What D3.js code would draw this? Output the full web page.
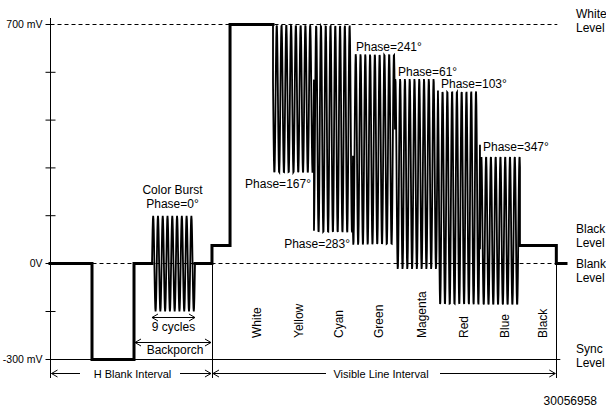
<!DOCTYPE html>
<html><head><meta charset="utf-8">
<script src="https://cdn.jsdelivr.net/npm/d3@7"></script>
<style>body{margin:0;background:#fff}svg{display:block;font-family:Arial,"Liberation Sans",sans-serif}</style>
</head><body><svg id="c" width="606" height="411"></svg>
<script>
// ---- data ----
const yTicks = [700, 560, 420, 280, 140, 0, -150, -300];
const yTickLabels = ["700 mV", "", "", "", "", "0V", "", "-300 mV"];
const levelNames = [["White", "Level"], ["Black", "Level"], ["Blank", "Level"], ["Sync", "Level"]];
const levelValues = [700, 53, 0, -300];
const barNames = ["White", "Yellow", "Cyan", "Green", "Magenta", "Red", "Blue", "Black"];
const barStart = [22.33, 27.66, 32.74, 37.58, 42.79, 48.12, 53.33, 58.29];
const barEnd = [27.66, 32.74, 37.58, 42.79, 48.12, 53.33, 58.29, 62.8];
const barTop = [700, 700, 700, 615, 542, 507, 315, 53];
const barBottom = [700, 264, 88, 53, -19, -131, -131, 53];
const barPhase = [null, 167, 283, 241, 61, 103, 347, null];
const syncStart = 5.21, syncEnd = 10.42;
const burstStart = 12.65, burstEnd = 17.98, burstCycles = 9;
const burstTop = 140, burstBottom = -150, burstPhase = 0;
const backporchEnd = 20.09, lineEnd = 64;
const blankLevel = 0, blackLevel = 53, syncLevel = -300, whiteLevel = 700;
const figureId = "30056958";

// ---- layout ----
const svg = d3.select("#c");
const x = d3.scaleLinear().domain([0, lineEnd]).range([50, 566]);
const y = d3.scaleLinear().domain([-300, 0, 700]).range([359.5, 263.5, 24.5]);
const FONT = "Arial, 'Liberation Sans', sans-serif";
const period = (burstEnd - burstStart) / burstCycles;
const ax = Math.round(x(0)) + 0.5;

// reference lines
[whiteLevel, blankLevel].forEach(v => {
  svg.append("line").attr("x1", ax).attr("x2", x(barEnd[7]) + 1)
    .attr("y1", y(v)).attr("y2", y(v))
    .attr("stroke", "#000").attr("stroke-width", 1).attr("stroke-dasharray", "4,3");
});
svg.append("line").attr("x1", ax).attr("x2", x(barEnd[7]) + 4)
  .attr("y1", y(syncLevel)).attr("y2", y(syncLevel)).attr("stroke", "#000").attr("stroke-width", 1);

// y axis
svg.append("line").attr("x1", ax).attr("x2", ax).attr("y1", 18).attr("y2", 378).attr("stroke", "#000").attr("stroke-width", 1);
const axis = d3.axisLeft(y).tickValues(yTicks).tickSize(5).tickPadding(3).offset(0)
  .tickFormat((d, i) => yTickLabels[i]);
const g = svg.append("g").attr("transform", `translate(${ax},0)`).call(axis);
g.select(".domain").remove();
g.selectAll(".tick line").attr("x1", (d, i) => yTickLabels[i] ? 0 : 5).attr("stroke", "#000");
g.selectAll(".tick text").attr("font-size", 10.5).attr("font-family", FONT).attr("fill", "#000");

// vertical dividers
[backporchEnd, barEnd[7]].forEach(t => {
  const xx = Math.round(x(t)) + 0.5;
  svg.append("line").attr("x1", xx).attr("x2", xx).attr("y1", y(blankLevel)).attr("y2", 378)
    .attr("stroke", "#000").attr("stroke-width", 1);
});

const line = d3.line().x(d => x(d[0])).y(d => y(d[1]));

function chroma(t0, t1, top, bottom, phaseDeg) {
  const mid = (top + bottom) / 2, amp = (top - bottom) / 2;
  const n = Math.max(2, Math.round((t1 - t0) / period * 16));
  return d3.range(n + 1).map(i => {
    const t = t0 + (t1 - t0) * i / n;
    return [t, mid + amp * Math.sin(2 * Math.PI * (t - t0) / period + phaseDeg * Math.PI / 180)];
  });
}

// thick flat parts
const flat1 = [[0, blankLevel], [syncStart, blankLevel], [syncStart, syncLevel], [syncEnd, syncLevel],
  [syncEnd, blankLevel], [burstStart, blankLevel]];
const flat2 = [[burstEnd, blankLevel], [backporchEnd, blankLevel], [backporchEnd, blackLevel],
  [barStart[0], blackLevel], [barStart[0], barTop[0]], [barEnd[0], barTop[0]]];
const flat3 = [[barStart[7], barTop[7]], [barEnd[7], barTop[7]], [barEnd[7], blankLevel], [lineEnd, blankLevel]];
[flat1, flat2, flat3].forEach(p => {
  svg.append("path").attr("d", line(p)).attr("fill", "none").attr("stroke", "#000")
    .attr("stroke-width", 3).attr("stroke-linejoin", "miter").attr("stroke-linecap", "square");
});

// burst
let burstPts = [[burstStart, blankLevel]].concat(chroma(burstStart, burstEnd, burstTop, burstBottom, burstPhase)).concat([[burstEnd, blankLevel]]);
svg.append("path").attr("d", line(burstPts)).attr("fill", "none").attr("stroke", "#000").attr("stroke-width", 1.8);

// chroma bars
let pts = [[barEnd[0], barTop[0]]];
for (let i = 1; i <= 6; i++) pts = pts.concat(chroma(barStart[i], barEnd[i], barTop[i], barBottom[i], barPhase[i]));
pts.push([barStart[7], barTop[7]]);
svg.append("path").attr("d", line(pts)).attr("fill", "none").attr("stroke", "#000").attr("stroke-width", 1.8);

function txt(s, xx, yy, size, anchor) {
  return svg.append("text").attr("x", xx).attr("y", yy).attr("font-size", size)
    .attr("font-family", FONT).attr("text-anchor", anchor || "middle").attr("fill", "#000").text(s);
}

// phase labels
for (let i = 1; i <= 6; i++) {
  const s = "Phase=" + barPhase[i] + "°";
  if (i <= 2) txt(s, x(barEnd[i]) - 3, y(barBottom[i]) + 15, 12, "end");
  else txt(s, x(barStart[i]) + 3, y(barTop[i]) - 2.5 - (i === 6 ? 2 : 0), 12, "start");
}

// colour names (rotated)
barNames.forEach((n, i) => {
  const cx = (x(barStart[i]) + x(barEnd[i])) / 2 + 5;
  svg.append("text").attr("transform", `translate(${cx},338) rotate(-90)`).attr("dy", "0.35em")
    .attr("font-size", 12).attr("font-family", FONT).attr("fill", "#000").attr("text-anchor", "start").text(n);
});

// burst texts
const bc = (x(burstStart) + x(burstEnd)) / 2;
txt("Color Burst", bc - 1, 193.5, 12);
txt("Phase=0°", bc - 1, 207.5, 12);
txt("9 cycles", bc, 331, 12);
txt("Backporch", (x(syncEnd) + x(backporchEnd)) / 2 + 2, 354, 12);

// arrows
function chevron(xx, yy, dir) {
  svg.append("path").attr("d", `M${xx + dir * 6},${yy - 3.5}L${xx},${yy}L${xx + dir * 6},${yy + 3.5}`)
    .attr("fill", "none").attr("stroke", "#000").attr("stroke-width", 1);
}
function hline(x1, x2, yy) {
  svg.append("line").attr("x1", x1).attr("x2", x2).attr("y1", yy).attr("y2", yy).attr("stroke", "#000").attr("stroke-width", 1);
}
function dArrow(x1, x2, yy) { hline(x1, x2, yy); chevron(x1, yy, 1); chevron(x2, yy, -1); }
dArrow(x(burstStart), x(burstEnd), 317.5);
dArrow(x(syncEnd) + 1, x(backporchEnd) - 1, 342.5);

// interval arrows
const iy = 373.5;
txt("H Blank Interval", 132.5, 377.5, 11);
hline(ax + 1, 80, iy); hline(180, x(backporchEnd) - 1, iy);
chevron(ax + 1, iy, 1); chevron(x(backporchEnd) - 1, iy, -1);
txt("Visible Line Interval", 381, 377.5, 11);
hline(x(backporchEnd) + 1, 326, iy); hline(440, x(barEnd[7]) - 1, iy);
chevron(x(backporchEnd) + 1, iy, 1); chevron(x(barEnd[7]) - 1, iy, -1);

// level labels
const levelDy = [-7, -12, 4, -7];
levelNames.forEach((ln, i) => {
  ln.forEach((s, j) => txt(s, 576, y(levelValues[i]) + levelDy[i] + j * 14, 12, "start"));
});

txt(figureId, 597, 404.5, 12, "end");
</script></body></html>
